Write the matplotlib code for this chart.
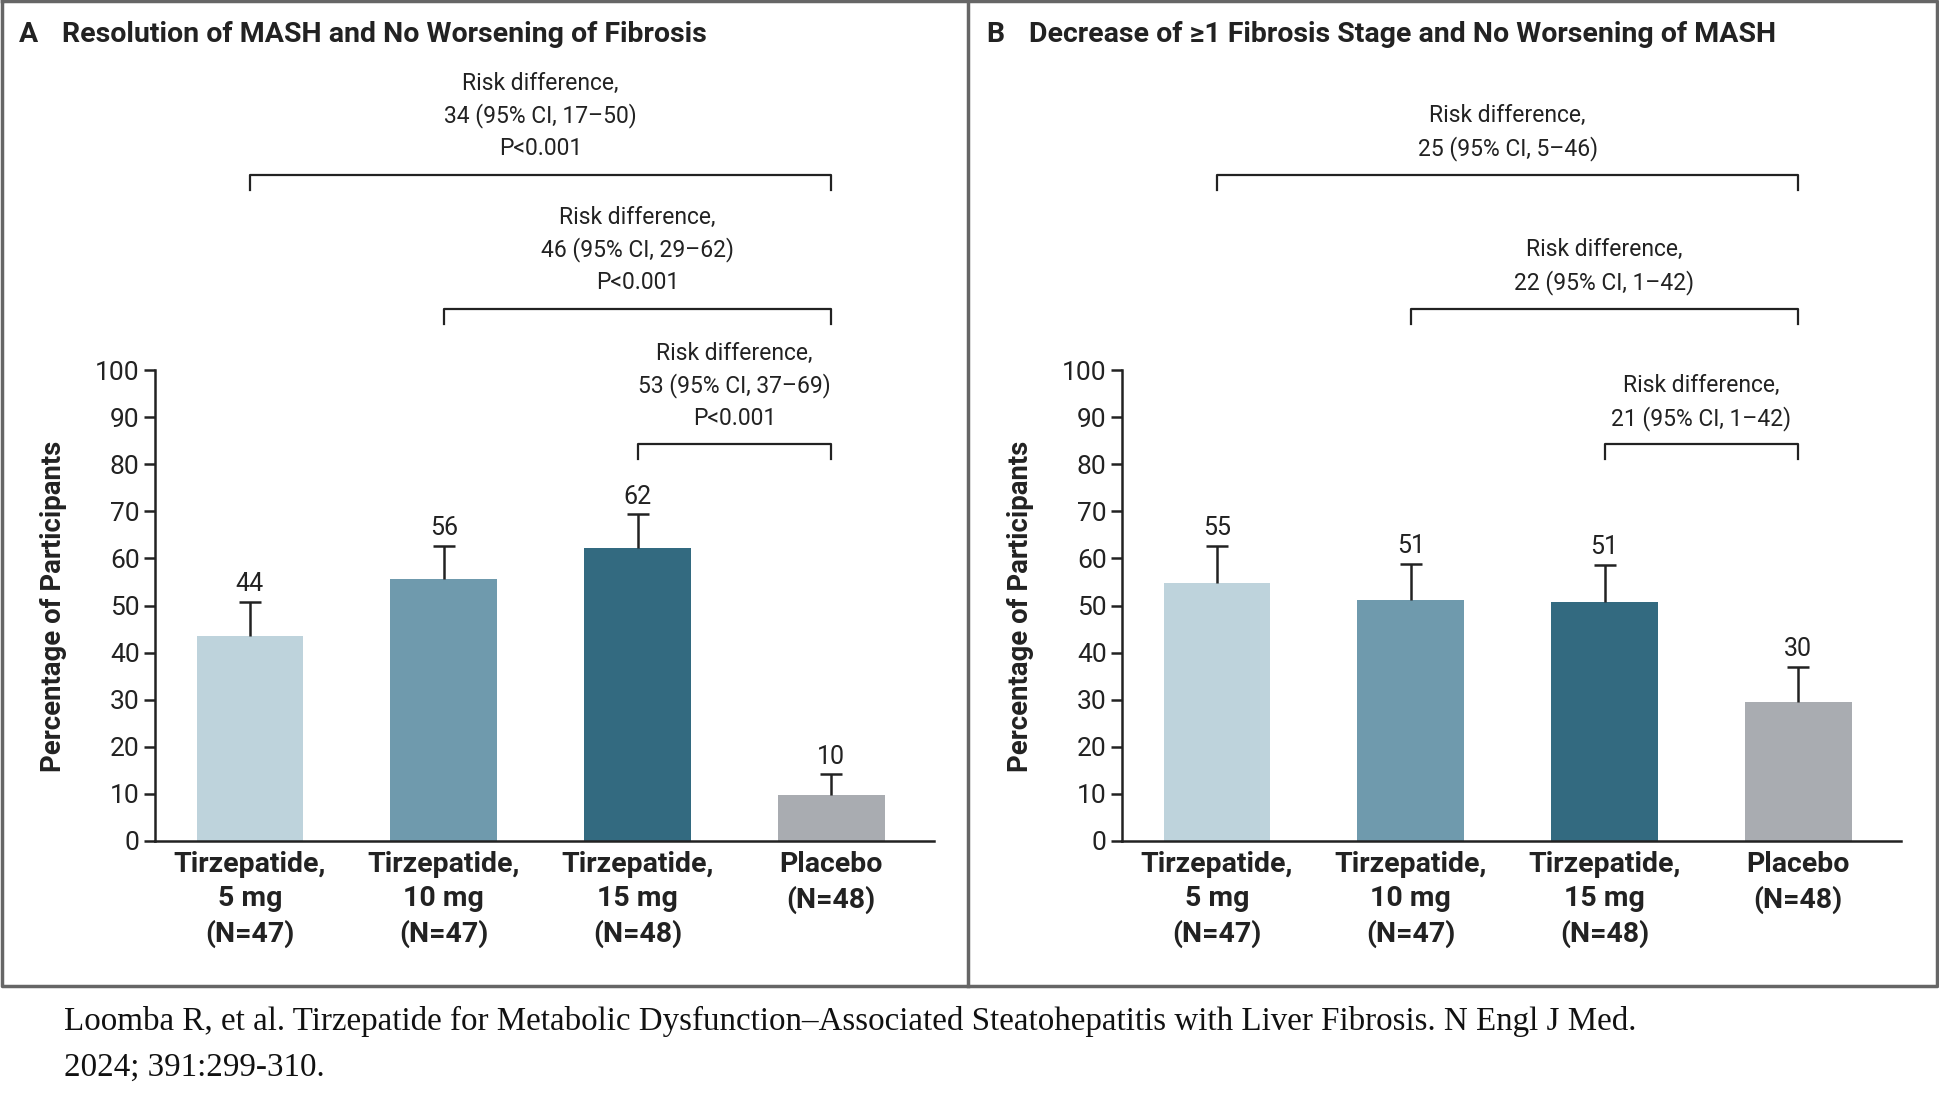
import matplotlib.pyplot as plt
from matplotlib.lines import Line2D
import numpy as np

plt.rcParams['font.family'] = ['Roboto', 'DejaVu Sans']

groups = ['Tirzepatide,\n5 mg\n(N=47)', 'Tirzepatide,\n10 mg\n(N=47)',
          'Tirzepatide,\n15 mg\n(N=48)', 'Placebo\n(N=48)']
colors = ['#bed3dc', '#6f9aad', '#336a80', '#a9acb1']

a_values = [43.6, 55.6, 62.3, 9.8]
a_upper = [50.8, 62.7, 69.4, 14.2]
a_labels = ['44', '56', '62', '10']
a_diffs = [['34 (95% CI, 17\u201350)', 'P<0.001'],
           ['46 (95% CI, 29\u201362)', 'P<0.001'],
           ['53 (95% CI, 37\u201369)', 'P<0.001']]

b_values = [54.8, 51.1, 50.8, 29.6]
b_upper = [62.7, 58.8, 58.6, 37.0]
b_labels = ['55', '51', '51', '30']
b_diffs = [['25 (95% CI, 5\u201346)'],
           ['22 (95% CI, 1\u201342)'],
           ['21 (95% CI, 1\u201342)']]

# bracket heights for comparisons (group i vs placebo)
pairs = [(0, 3), (1, 3), (2, 3)]
bracket_y = [141.5, 113.0, 84.2]

fig = plt.figure(figsize=(19.39, 11), dpi=100)


def draw_panel(left, letter, title, values, upper, labels, diffs):
    ax = fig.add_axes([left, 1 - 841 / 1100, 779 / 1939, 841 / 1100])
    x = np.arange(len(values))
    ax.bar(x, values, width=0.55, color=colors, zorder=2)
    err = [np.zeros(len(values)), np.array(upper) - np.array(values)]
    _, caps, _ = ax.errorbar(x, values, yerr=err, fmt='none', ecolor='#222222',
                             elinewidth=1.8, capsize=8, capthick=1.8, zorder=3)
    caps[0].set_visible(False)
    for xi, top, lab in zip(x, upper, labels):
        ax.annotate(lab, (xi, top), xytext=(0, 4), textcoords='offset points',
                    ha='center', va='bottom', fontsize=18, color='#222222')

    for (i, j), yb, lines in zip(pairs, bracket_y, diffs):
        ax.plot([i, i, j, j], [yb - 3.2, yb, yb, yb - 3.2], color='#222222',
                lw=1.6, clip_on=False)
        txt = ['Risk difference,'] + lines
        for k, line in enumerate(reversed(txt)):
            ax.text((i + j) / 2, yb + 5.6 + k * 6.9, line, ha='center',
                    va='center', fontsize=16.5, color='#222222')

    ax.set_xlim(-0.49, 3.53)
    ax.set_ylim(0, 841 / 4.71)
    ax.spines['top'].set_visible(False)
    ax.spines['right'].set_visible(False)
    ax.spines['left'].set_bounds(0, 100)
    for s in ('left', 'bottom'):
        ax.spines[s].set_linewidth(1.8)
        ax.spines[s].set_color('#222222')
    ax.set_yticks(range(0, 101, 10))
    ax.tick_params(axis='y', labelsize=19, length=8, width=1.8, pad=3,
                   colors='#222222')
    ax.set_xticks(x)
    ax.set_xticklabels(groups, fontsize=20.5, fontweight='bold', linespacing=1.36)
    ax.tick_params(axis='x', length=0, pad=7, colors='#222222')
    ax.set_ylabel('Percentage of Participants', fontsize=19.8, fontweight='bold',
                  color='#222222', va='center')
    ax.yaxis.set_label_coords(-0.13, 0.279)
    ax.patch.set_alpha(0)

    fx = left - 136 / 1939
    fig.text(fx, 1 - 35 / 1100, letter, fontsize=20.5, fontweight='bold',
             va='center', color='#222222')
    fig.text(fx + 43 / 1939, 1 - 35 / 1100, title, fontsize=20.5,
             fontweight='bold', va='center', color='#222222')


draw_panel(155 / 1939, 'A', 'Resolution of MASH and No Worsening of Fibrosis',
           a_values, a_upper, a_labels, a_diffs)
draw_panel(1122 / 1939, 'B', 'Decrease of \u22651 Fibrosis Stage and No Worsening of MASH',
           b_values, b_upper, b_labels, b_diffs)

# panel frame
frame = dict(transform=fig.transFigure, color='#666666', lw=2.5)
yb = 1 - 986 / 1100
fig.add_artist(Line2D([0.001, 0.999, 0.999, 0.001, 0.001],
                      [0.999, 0.999, yb, yb, 0.999], **frame))
fig.add_artist(Line2D([968 / 1939, 968 / 1939], [yb, 0.999], **frame))

fig.text(64 / 1939, 1 - 1021 / 1100,
         'Loomba R, et al. Tirzepatide for Metabolic Dysfunction\u2013Associated '
         'Steatohepatitis with Liver Fibrosis. N Engl J Med.',
         family='Liberation Serif', fontsize=23.8, va='center', color='#111111')
fig.text(64 / 1939, 1 - 1068 / 1100, '2024; 391:299-310.',
         family='Liberation Serif', fontsize=23.8, va='center', color='#111111')

fig.savefig('out.png', dpi=100)
